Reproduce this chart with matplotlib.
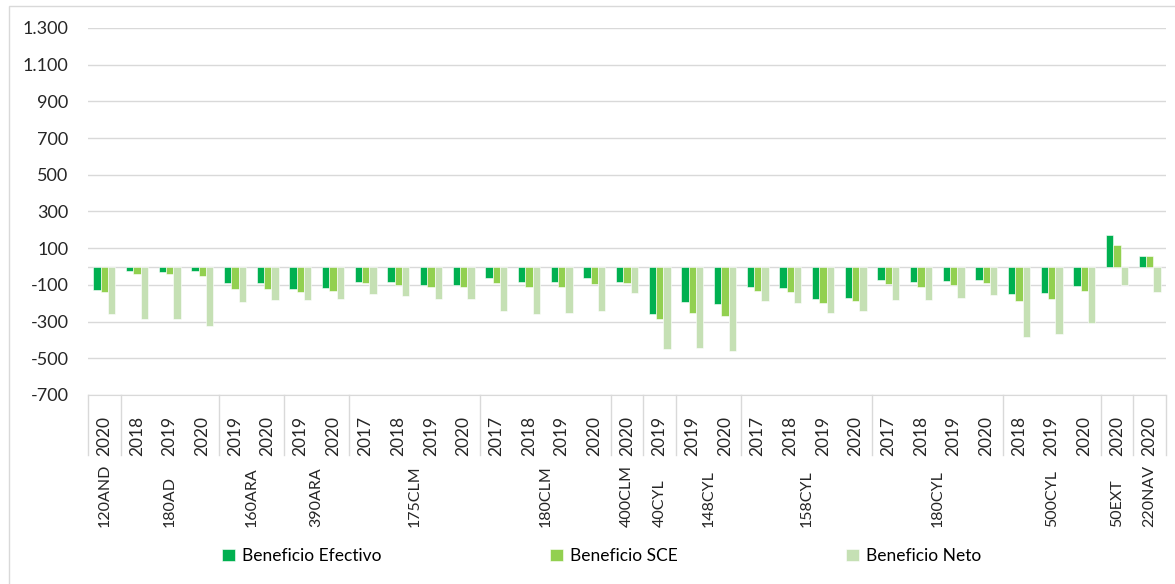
import matplotlib.pyplot as plt
import matplotlib.transforms as mtransforms
from matplotlib.patches import Rectangle
import numpy as np

plt.rcParams['font.family'] = ['Lato', 'DejaVu Sans']

years = ['2020', '2018', '2019', '2020', '2019', '2020', '2019', '2020',
         '2017', '2018', '2019', '2020', '2017', '2018', '2019', '2020',
         '2020', '2019', '2019', '2020', '2017', '2018', '2019', '2020',
         '2017', '2018', '2019', '2020', '2018', '2019', '2020', '2020', '2020']
regions = ['120AND', '180AD', '160ARA', '390ARA', '175CLM', '180CLM', '400CLM',
           '40CYL', '148CYL', '158CYL', '180CYL', '500CYL', '50EXT', '220NAV']
region_sizes = [1, 3, 2, 2, 4, 4, 1, 1, 2, 4, 4, 3, 1, 1]

efectivo = [-127, -22, -27, -22, -87, -87, -120, -115,
            -84, -84, -100, -100, -65, -84, -84, -65,
            -84, -260, -191, -202, -111, -118, -178, -171,
            -76, -84, -80, -76, -151, -142, -104, 171, 56]
sce = [-136, -42, -42, -49, -125, -120, -136, -133,
       -91, -98, -113, -113, -89, -109, -109, -96,
       -91, -285, -251, -269, -131, -136, -196, -187,
       -97, -109, -98, -89, -187, -175, -131, 115, 56]
neto = [-256, -287, -287, -322, -191, -185, -182, -178,
        -151, -158, -175, -175, -240, -260, -255, -242,
        -145, -449, -445, -458, -187, -196, -251, -242,
        -181, -182, -169, -155, -382, -367, -307, -102, -136]

W, H = 1175, 584
fig = plt.figure(figsize=(W / 100, H / 100), dpi=100)
ax = fig.add_axes([88 / W, 1 - 395 / H, (1166 - 88) / W, (395 - 28) / H])

# chart border
fig.patches.append(Rectangle((9 / W, -0.01), 1.02 - 9 / W, 1 - 6 / H + 0.01,
                             transform=fig.transFigure, fill=False,
                             edgecolor='#D9D9D9', linewidth=1))

x = np.arange(len(years))
w = 0.223
ax.bar(x - w, efectivo, w, color='#00B050', edgecolor='white', linewidth=0.4, label='Beneficio Efectivo', zorder=3)
ax.bar(x, sce, w, color='#92D050', edgecolor='white', linewidth=0.4, label='Beneficio SCE', zorder=3)
ax.bar(x + w, neto, w, color='#C5E0B4', edgecolor='white', linewidth=0.4, label='Beneficio Neto', zorder=3)

ax.set_xlim(-0.5, len(years) - 0.5)
ax.set_ylim(-700, 1300)
yt = np.arange(-700, 1301, 200)
ax.set_yticks(yt)
ax.set_yticklabels([f'{v:,}'.replace(',', '.') for v in yt], fontsize=13, color='#262626')
ax.grid(axis='y', color='#D9D9D9', linewidth=1, zorder=0)
ax.axhline(0, color='#D9D9D9', linewidth=1, zorder=1)
for s in ['top', 'right', 'left']:
    ax.spines[s].set_visible(False)
ax.spines['bottom'].set_color('#D9D9D9')
ax.tick_params(axis='y', length=0, pad=14)

ax.set_xticks(x)
ax.set_xticklabels(years, rotation=90, fontsize=12.5, color='#262626')
ax.tick_params(axis='x', length=0, pad=15)

# region separators and labels
trans = mtransforms.blended_transform_factory(ax.transData, ax.transAxes)
sep_bottom = -(455 - 395) / (395 - 28)
label_y = -(527 - 395) / (395 - 28)
start = 0
bounds = [-0.5]
for name, n in zip(regions, region_sizes):
    center = start + (n - 1) / 2
    ax.text(center, label_y, name, rotation=90, ha='center', va='bottom',
            fontsize=11.5, color='#262626', transform=trans)
    start += n
    bounds.append(start - 0.5)
for b in bounds:
    ax.plot([b, b], [0, sep_bottom], color='#D9D9D9', linewidth=1,
            transform=trans, clip_on=False)

ax.legend(loc='center', bbox_to_anchor=(602 / W, 1 - 556 / H), bbox_transform=fig.transFigure,
          ncol=3, frameon=False, fontsize=12.5, handlelength=0.75, handleheight=0.75,
          handletextpad=0.4, columnspacing=9.7)

fig.savefig('out.png', dpi=100)
